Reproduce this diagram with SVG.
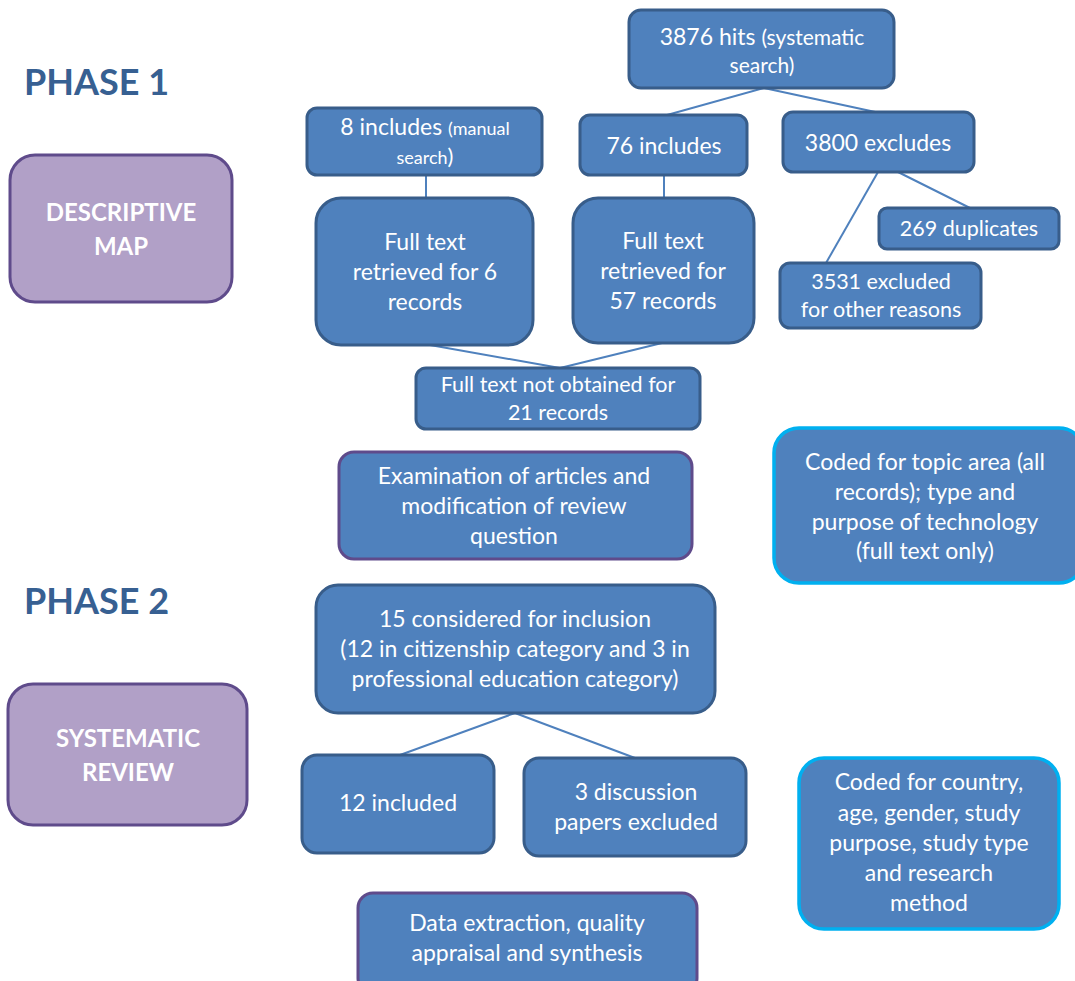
<svg xmlns="http://www.w3.org/2000/svg" width="1075" height="981" viewBox="0 0 1075 981">
<style>
.b{fill:#4f81bd;stroke:#385d8a;stroke-width:3}
.p{fill:#4f81bd;stroke:#5f4b8b;stroke-width:3}
.c{fill:#4f81bd;stroke:#00b0f0;stroke-width:3.5}
.m{fill:#b1a0c7;stroke:#5f4b8b;stroke-width:3}
text{font-family:Lato,"Open Sans","Liberation Sans",sans-serif;fill:#fff;text-anchor:middle;font-size:23px}
.h{fill:#376092;text-anchor:start;font-weight:bold;font-size:36px}
.t{font-weight:bold;font-size:24px}
.s{font-size:18px}
.r{font-size:21.5px}
.l{stroke:#4f81bd;stroke-width:2;fill:none}
</style>
<text class="h" x="24" y="95">PHASE 1</text>
<text class="h" x="24" y="614">PHASE 2</text>
<g id="connectors">
<line class="l" x1="764" y1="88" x2="667" y2="115"/>
<line class="l" x1="764" y1="88" x2="880" y2="113"/>
<line class="l" x1="426" y1="175" x2="426" y2="198"/>
<line class="l" x1="664" y1="175" x2="664" y2="198"/>
<line class="l" x1="878" y1="172" x2="826" y2="263"/>
<line class="l" x1="898" y1="172" x2="970" y2="208"/>
<line class="l" x1="430" y1="345" x2="560" y2="368"/>
<line class="l" x1="662" y1="343" x2="560" y2="368"/>
<line class="l" x1="515" y1="713" x2="400" y2="755"/>
<line class="l" x1="515" y1="713" x2="635" y2="758"/>
</g>
<g id="descriptive-map"><rect class="m" x="10" y="155" width="222" height="147" rx="25"/><text class="t" x="121" y="221">DESCRIPTIVE</text><text class="t" x="121" y="255">MAP</text></g>
<g id="hits"><rect class="b" x="629" y="10" width="265" height="78" rx="12"/><text x="762" y="45">3876 hits <tspan style="font-size:21px">(systematic</tspan></text><text style="font-size:21px" x="762" y="73">search)</text></g>
<g id="manual"><rect class="b" x="307" y="108" width="235" height="67" rx="10"/><text x="425" y="135">8 includes <tspan class="s">(manual</tspan></text><text class="s" x="425" y="164">search<tspan style="font-size:22px">)</tspan></text></g>
<g id="includes76"><rect class="b" x="580" y="115" width="167" height="60" rx="10"/><text x="664" y="154">76 includes</text></g>
<g id="excludes3800"><rect class="b" x="783" y="112" width="191" height="60" rx="10"/><text x="878" y="151">3800 excludes</text></g>
<g id="duplicates"><rect class="b" x="879" y="208" width="180" height="41" rx="8"/><text class="r" x="969" y="236">269 duplicates</text></g>
<g id="other"><rect class="b" x="780" y="263" width="201" height="65" rx="10"/><text class="r" x="881" y="289">3531 excluded</text><text class="r" x="881" y="317">for other reasons</text></g>
<g id="full6"><rect class="b" x="316" y="198" width="217" height="147" rx="25"/><text x="425" y="250">Full text</text><text x="425" y="280">retrieved for 6</text><text x="425" y="310">records</text></g>
<g id="full57"><rect class="b" x="573" y="198" width="181" height="145" rx="25"/><text x="663" y="249">Full text</text><text x="663" y="279">retrieved for</text><text x="663" y="309">57 records</text></g>
<g id="notobtained"><rect class="b" x="416" y="368" width="284" height="61" rx="10"/><text class="r" x="558" y="392">Full text not obtained for</text><text class="r" x="558" y="420">21 records</text></g>
<g id="examination"><rect class="p" x="339" y="452" width="353" height="107" rx="15"/><text x="514" y="484">Examination of articles and</text><text x="514" y="514">modification of review</text><text x="514" y="544">question</text></g>
<g id="coded1"><rect class="c" x="774" y="428" width="310" height="155" rx="25"/><text x="925" y="470">Coded for topic area (all</text><text x="925" y="500">records); type and</text><text x="925" y="530">purpose of technology</text><text x="925" y="559">(full text only)</text></g>
<g id="systematic-review"><rect class="m" x="8" y="684" width="239" height="141" rx="25"/><text class="t" x="128" y="747">SYSTEMATIC</text><text class="t" x="128" y="781">REVIEW</text></g>
<g id="considered"><rect class="b" x="316" y="585" width="399" height="128" rx="22"/><text x="515" y="627">15 considered for inclusion</text><text x="515" y="657">(12 in citizenship category and 3 in</text><text x="515" y="687">professional education category)</text></g>
<g id="included12"><rect class="b" x="302" y="755" width="192" height="98" rx="15"/><text x="398" y="811">12 included</text></g>
<g id="discussion"><rect class="b" x="524" y="758" width="222" height="98" rx="15"/><text x="636" y="800">3 discussion</text><text x="636" y="830">papers excluded</text></g>
<g id="coded2"><rect class="c" x="799" y="758" width="260" height="171" rx="25"/><text x="929" y="790">Coded for country,</text><text x="929" y="821">age, gender, study</text><text x="929" y="851">purpose, study type</text><text x="929" y="881">and research</text><text x="929" y="911">method</text></g>
<g id="data-extraction"><rect class="p" x="358" y="893" width="339" height="100" rx="15"/><text x="527" y="931">Data extraction, quality</text><text x="527" y="961">appraisal and synthesis</text></g>
</svg>
